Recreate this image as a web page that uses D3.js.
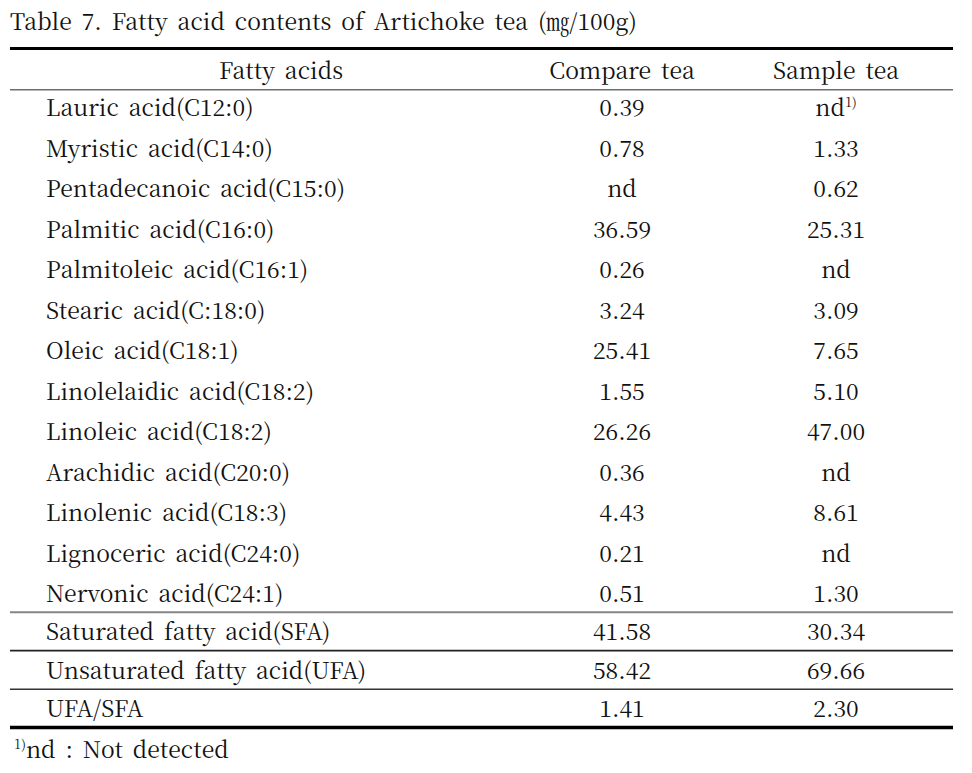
<!DOCTYPE html>
<html>
<head>
<meta charset="utf-8">
<script src="https://cdn.jsdelivr.net/npm/d3@7"></script>
<style>
  body { margin: 0; background: #fff; }
</style>
</head>
<body>
<svg id="chart" width="972" height="773"></svg>
<script>
// table content
const title = "Table 7. Fatty acid contents of Artichoke tea (㎎/100g)"
const columns = ["Fatty acids", "Compare tea", "Sample tea"]
const fattyAcids = [
    "Lauric acid(C12:0)", "Myristic acid(C14:0)", "Pentadecanoic acid(C15:0)",
    "Palmitic acid(C16:0)", "Palmitoleic acid(C16:1)", "Stearic acid(C:18:0)",
    "Oleic acid(C18:1)", "Linolelaidic acid(C18:2)", "Linoleic acid(C18:2)",
    "Arachidic acid(C20:0)", "Linolenic acid(C18:3)", "Lignoceric acid(C24:0)",
    "Nervonic acid(C24:1)"
]
const compareTea = ["0.39", "0.78", "nd", "36.59", "0.26", "3.24", "25.41", "1.55", "26.26", "0.36", "4.43", "0.21", "0.51"]
const sampleTea = ["nd", "1.33", "0.62", "25.31", "nd", "3.09", "7.65", "5.10", "47.00", "nd", "8.61", "nd", "1.30"]
const sampleNotes = ["1)", "", "", "", "", "", "", "", "", "", "", "", ""]
const summaryLabels = ["Saturated fatty acid(SFA)", "Unsaturated fatty acid(UFA)", "UFA/SFA"]
const summaryCompare = ["41.58", "58.42", "1.41"]
const summarySample = ["30.34", "69.66", "2.30"]
const footnote = {mark: "1)", text: "nd : Not detected"}

const svg = d3.select("#chart")
const font = "Noto Serif CJK KR"
const fontSize = 23
const left = 10, right = 953

// column centres / label start
const colX = d3.scaleOrdinal().domain(columns).range([281, 622, 836])
const labelX = 46

// rows
const bodyY = d3.scalePoint().domain(d3.range(fattyAcids.length)).range([116, 602])
const sumY = d3.scalePoint().domain(d3.range(summaryLabels.length)).range([640, 717])

function txt(g, s, x, y, anchor) {
    return g.append("text")
        .attr("x", x).attr("y", y)
        .attr("text-anchor", anchor || "middle")
        .attr("font-family", font)
        .attr("font-size", fontSize)
        .attr("fill", "#111")
        .attr("word-spacing", 4)
        .text(s)
}

txt(svg, title, 10, 30, "start")

// rules
const rule = (y, w, c) => svg.append("line")
    .attr("x1", left).attr("x2", right).attr("y1", y).attr("y2", y)
    .attr("stroke", c).attr("stroke-width", w)
rule(48.5, 3.2, "#000")
rule(89.8, 1.6, "#6e6e6e")
rule(612.3, 2, "#858585")
rule(650.6, 1.6, "#222")
rule(689.3, 1.6, "#333")
rule(727.5, 3.4, "#000")

// header
columns.forEach(c => txt(svg, c, colX(c), 79))

const body = svg.append("g")
fattyAcids.forEach((name, i) => {
    const y = bodyY(i)
    txt(body, name, labelX, y, "start")
    txt(body, compareTea[i], colX(columns[1]), y)
    const t = txt(body, sampleTea[i], colX(columns[2]), y)
    if (sampleNotes[i]) {
        t.append("tspan").attr("dy", -9).attr("font-size", 13).text(sampleNotes[i])
    }
})

const sums = svg.append("g")
summaryLabels.forEach((name, i) => {
    const y = sumY(i)
    txt(sums, name, labelX, y, "start")
    txt(sums, summaryCompare[i], colX(columns[1]), y)
    txt(sums, summarySample[i], colX(columns[2]), y)
})

// footnote
const fn = txt(svg, "", 14, 758, "start")
fn.append("tspan").attr("dy", -9).attr("font-size", 13).text(footnote.mark)
fn.append("tspan").attr("dy", 9).text(footnote.text)
</script>
</body>
</html>
